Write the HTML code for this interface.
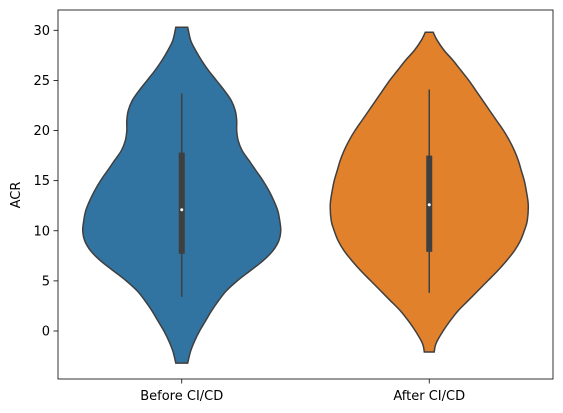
<!DOCTYPE html>
<html><head><meta charset="utf-8"><style>
html,body{margin:0;padding:0;background:#fff;}
svg{display:block;font-family:"DejaVu Sans","Liberation Sans",sans-serif;}
</style></head><body>
<svg id="chart" width="563" height="413">
<rect x="0" y="0" width="563" height="413" fill="#fff"/>
<g id="plot"></g>
</svg>
<script>
const categories = ["Before CI/CD", "After CI/CD"];
const colors = ["#3274a1", "#e1812c"];
const beforeVals = [-3.2, -2, -1, 0, 1, 2, 3, 4, 5, 6, 7, 8, 9, 10, 11, 12, 13, 14, 15, 16, 17, 18, 19, 20, 21, 22, 23, 24, 25, 26, 27, 28, 29, 30.3];
const beforeWidth = [0.06, 0.09, 0.13, 0.18, 0.24, 0.3, 0.37, 0.45, 0.56, 0.69, 0.82, 0.92, 0.98, 1.0, 0.99, 0.97, 0.93, 0.88, 0.82, 0.75, 0.68, 0.61, 0.57, 0.555, 0.555, 0.54, 0.5, 0.43, 0.35, 0.27, 0.2, 0.14, 0.09, 0.06];
const afterVals = [-2.1, -1.5, -1, 0, 1, 2, 3, 4, 5, 6, 7, 8, 9, 10, 11, 12.6, 14, 15, 16, 17, 18, 19, 20, 21, 22, 23, 24, 25, 26, 27, 28, 29, 29.8];
const afterWidth = [0.05, 0.06, 0.08, 0.14, 0.21, 0.29, 0.39, 0.49, 0.59, 0.69, 0.78, 0.86, 0.92, 0.96, 0.99, 1.0, 0.98, 0.96, 0.93, 0.9, 0.86, 0.81, 0.75, 0.68, 0.61, 0.54, 0.47, 0.4, 0.32, 0.24, 0.15, 0.08, 0.04];
const whiskLow = [3.4, 3.8];
const q1 = [7.7, 7.9];
const medians = [12.1, 12.6];
const q3 = [17.8, 17.5];
const whiskHigh = [23.7, 24.1];
const yTicks = [0, 5, 10, 15, 20, 25, 30];

const L = 58, R = 553, T = 10, B = 379;
const y = v => 331 - (v) * (300.7 / 30);
const xc = i => L + (R - L) * (i + 0.5) / categories.length;
const maxHalf = 99;
const NS = "http://www.w3.org/2000/svg";
const plot = document.getElementById('plot');
function mk(tag, attrs, parent) {
  const e = document.createElementNS(NS, tag);
  for (const k in attrs) e.setAttribute(k, attrs[k]);
  (parent || plot).appendChild(e);
  return e;
}
function smoothSeg(pts) {
  let d = "";
  for (let i = 0; i < pts.length - 1; i++) {
    const p0 = pts[Math.max(0, i - 1)], p1 = pts[i], p2 = pts[i + 1], p3 = pts[Math.min(pts.length - 1, i + 2)];
    const c1 = [p1[0] + (p2[0] - p0[0]) / 6, p1[1] + (p2[1] - p0[1]) / 6];
    const c2 = [p2[0] - (p3[0] - p1[0]) / 6, p2[1] - (p3[1] - p1[1]) / 6];
    d += " C" + c1[0].toFixed(2) + "," + c1[1].toFixed(2) + " " + c2[0].toFixed(2) + "," + c2[1].toFixed(2) + " " + p2[0].toFixed(2) + "," + p2[1].toFixed(2);
  }
  return d;
}
const profiles = [[beforeVals, beforeWidth], [afterVals, afterWidth]];
profiles.forEach((p, i) => {
  const cx = xc(i);
  const right = p[0].map((v, j) => [cx + p[1][j] * maxHalf, y(v)]);
  const left = p[0].map((v, j) => [cx - p[1][j] * maxHalf, y(v)]).reverse();
  let d = "M" + right[0][0] + "," + right[0][1] + smoothSeg(right);
  d += " L" + left[0][0] + "," + left[0][1] + smoothSeg(left) + " Z";
  const path = mk('path', {d: d, fill: colors[i], stroke: '#3f3f3f', 'stroke-width': 1.5});
  
  
  const wh = mk('line', {x1: cx, x2: cx, y1: y(whiskLow[i]), y2: y(whiskHigh[i]), stroke: '#3f3f3f', 'stroke-width': 1.5});
  
  
  const bx = mk('rect', {x: cx - 3, y: y(q3[i]), width: 6, height: y(q1[i]) - y(q3[i]), fill: '#3f3f3f'});
  
  
  const md = mk('circle', {cx: cx, cy: y(medians[i]), r: 1.5, fill: '#fff'});
  
  
  const tk = mk('line', {x1: cx, x2: cx, y1: B, y2: B + 4.5, stroke: '#000', 'stroke-width': 0.8});
  
  
  const lb = mk('text', {x: cx, y: B + 21, 'text-anchor': 'middle', 'font-size': 13, fill: '#000'});
  lb.textContent = categories[i];
  
  
});
yTicks.forEach(t => {
  const tk = mk('line', {x1: L - 4.5, x2: L, y1: y(t), y2: y(t), stroke: '#000', 'stroke-width': 0.8});
  
  
  const lb = mk('text', {x: L - 8, y: y(t) + 4.5, 'text-anchor': 'end', 'font-size': 13, fill: '#000'});
  lb.textContent = t;
  
  
});
const frame = mk('rect', {x: L, y: T, width: R - L, height: B - T, fill: 'none', stroke: '#000', 'stroke-width': 0.8});


const yt = mk('text', {x: 20, y: 195, 'text-anchor': 'middle', 'font-size': 13, fill: '#000', transform: 'rotate(-90 20 195)'});
yt.textContent = 'ACR';


</script>
</body></html>
